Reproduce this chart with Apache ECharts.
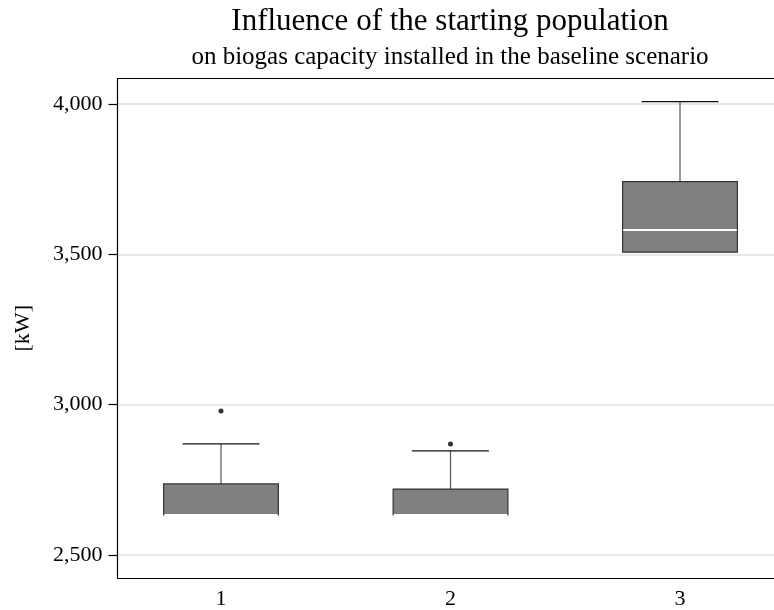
<!DOCTYPE html>
<html>
<head>
<meta charset="utf-8">
<script src="https://cdn.jsdelivr.net/npm/echarts@6/dist/echarts.min.js"></script>
<style>
  html, body { margin: 0; padding: 0; background: #fff; }
  #chart { width: 774px; height: 610px; }
</style>
</head>
<body>
<div id="chart"></div>
<script>
// ---- data ----
const categories = ['1', '2', '3'];
const catPositions = [1, 2, 3];
const whiskerLow = [2633, 2633, 3507];
const q1 = [2633, 2633, 3507];
const median = [2633, 2633, 3581];
const q3 = [2736, 2719, 3742];
const whiskerHigh = [2869, 2846, 4008];
const outlierCat = [1, 2];
const outlierValue = [2979, 2869];
const yTicks = [2500, 3000, 3500, 4000];

const titleText = 'Influence of the starting population';
const subtitleText = 'on biogas capacity installed in the baseline scenario';
const yAxisName = '[kW]';

// ---- build ----
const FONT = "'Liberation Serif', 'DejaVu Serif', serif";
const boxData = catPositions.map((c, i) => [c, whiskerLow[i], q1[i], median[i], q3[i], whiskerHigh[i]]);
const outlierData = outlierCat.map((c, i) => [c, outlierValue[i]]);

const BOX_W = 0.5;   // in axis units
const CAP_W = 0.335; // in axis units
const GRID_LEFT = 117.5;
const GRID_W = 774 - GRID_LEFT + 20;
const X_MIN = 0.549;
const X_MAX = X_MIN + (774 - GRID_LEFT) / 229.5;

function renderBox(params, api) {
  const x = api.value(0);
  const lo = api.value(1), a = api.value(2), m = api.value(3), b = api.value(4), hi = api.value(5);
  const pLo = api.coord([x, lo]);
  const pA = api.coord([x, a]);
  const pM = api.coord([x, m]);
  const pB = api.coord([x, b]);
  const pHi = api.coord([x, hi]);
  const hw = api.size([BOX_W, 0])[0] / 2;
  const cw = api.size([CAP_W, 0])[0] / 2;
  const cx = pA[0];
  const children = [];
  children.push({ type: 'line', shape: { x1: cx, y1: pB[1], x2: cx, y2: pHi[1] },
    style: { stroke: '#555', lineWidth: 1.2 } });
  children.push({ type: 'line', shape: { x1: cx - cw, y1: pHi[1], x2: cx + cw, y2: pHi[1] },
    style: { stroke: '#111', lineWidth: 1.2 } });
  if (lo < a) {
    children.push({ type: 'line', shape: { x1: cx, y1: pA[1], x2: cx, y2: pLo[1] },
      style: { stroke: '#555', lineWidth: 1.2 } });
    children.push({ type: 'line', shape: { x1: cx - cw, y1: pLo[1], x2: cx + cw, y2: pLo[1] },
      style: { stroke: '#111', lineWidth: 1.2 } });
  }
  children.push({ type: 'rect', shape: { x: cx - hw, y: pB[1], width: 2 * hw, height: pA[1] - pB[1] },
    style: { fill: '#808080', stroke: '#333', lineWidth: 1.2 } });
  children.push({ type: 'line', shape: { x1: cx - hw + 0.6, y1: pM[1], x2: cx + hw - 0.6, y2: pM[1] },
    style: { stroke: '#fff', lineWidth: 2 } });
  return { type: 'group', children: children };
}

const chart = echarts.init(document.getElementById('chart'), null, { renderer: 'canvas' });
chart.setOption({
  animation: false,
  backgroundColor: '#fff',
  title: [
    { text: titleText, left: 450, top: 6, textAlign: 'center', padding: 0,
      textStyle: { fontFamily: FONT, fontSize: 31, fontWeight: 'normal', color: '#000' } },
    { text: subtitleText, left: 450, top: 45, textAlign: 'center', padding: 0,
      textStyle: { fontFamily: FONT, fontSize: 25, fontWeight: 'normal', color: '#000' } }
  ],
  grid: {
    left: GRID_LEFT, top: 78.5, right: 0, bottom: 30.5,
    show: false
  },
  xAxis: [
    {
      type: 'value', min: X_MIN, max: X_MAX, position: 'bottom',
      axisLine: { show: true, lineStyle: { color: '#000', width: 1.2 } },
      axisTick: { show: false },
      splitLine: { show: false },
      axisLabel: {
        customValues: catPositions, margin: 10,
        fontFamily: FONT, fontSize: 22, color: '#000',
        formatter: v => categories[catPositions.indexOf(Math.round(v))] || ''
      }
    },
    {
      type: 'value', min: X_MIN, max: X_MAX, position: 'top',
      axisLine: { show: true, lineStyle: { color: '#000', width: 1.2 } },
      axisTick: { show: false },
      splitLine: { show: false },
      axisLabel: { show: false }
    }
  ],
  yAxis: {
    type: 'value', min: 2423, max: 4085,
    name: yAxisName, nameLocation: 'middle', nameGap: 83, nameRotate: 90,
    nameTextStyle: { fontFamily: FONT, fontSize: 22, color: '#000' },
    axisLine: { show: true, lineStyle: { color: '#000', width: 1.2 } },
    axisTick: { show: true, inside: false, length: 9, customValues: yTicks,
      lineStyle: { color: '#000', width: 1.2 } },
    axisLabel: {
      customValues: yTicks, margin: 15,
      fontFamily: FONT, fontSize: 22, color: '#000',
      formatter: v => Number(v).toLocaleString('en-US')
    },
    splitLine: { show: true, lineStyle: { color: '#dedede', width: 1.5 } }
  },
  series: [
    {
      type: 'custom',
      renderItem: renderBox,
      encode: { x: 0, y: [1, 2, 3, 4, 5] },
      data: boxData,
      clip: false,
      z: 3
    },
    {
      type: 'scatter',
      data: outlierData,
      symbol: 'circle',
      symbolSize: 5,
      itemStyle: { color: '#000' },
      z: 4
    }
  ]
});
</script>
</body>
</html>
